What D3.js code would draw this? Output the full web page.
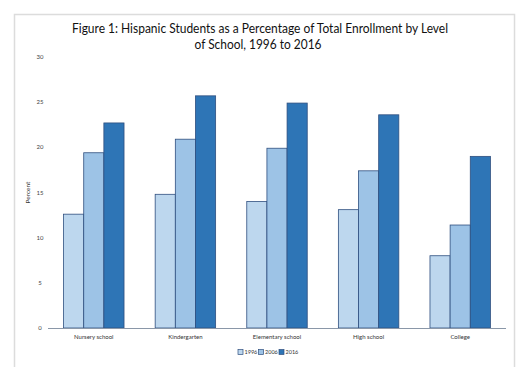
<!DOCTYPE html>
<html>
<head>
<meta charset="utf-8">
<script src="https://cdn.jsdelivr.net/npm/d3@7"></script>
<style>
  body { margin: 0; background: #fff; }
  svg { display: block; font-family: Lato, "Open Sans", sans-serif; }
</style>
</head>
<body>
<div id="chart"></div>
<script>
const categories = ["Nursery school", "Kindergarten", "Elementary school", "High school", "College"]
const years = ["1996", "2006", "2016"]
const values1996 = [12.6, 14.8, 14.0, 13.1, 8.0]
const values2006 = [19.4, 20.9, 19.9, 17.4, 11.4]
const values2016 = [22.7, 25.7, 24.9, 23.6, 19.0]
const yTicks = [0, 5, 10, 15, 20, 25, 30]

const series = [values1996, values2006, values2016]
const colors = ["#bdd7ee", "#9dc3e6", "#2e75b6"]

const width = 532, height = 367
const margin = {left: 48, right: 26, top: 57, bottom: 39}

const svg = d3.select("#chart")
  .append("svg")
  .attr("width", width)
  .attr("height", height)

// outer frame
svg.append("rect")
  .attr("x", 14.5).attr("y", 14.5)
  .attr("width", 500).attr("height", 370)
  .attr("fill", "none")
  .attr("stroke", "#dcdcdc")
  .attr("stroke-width", 1.5)

svg.append("text")
  .attr("x", 260).attr("y", 33)
  .attr("text-anchor", "middle")
  .attr("textLength", 376)
  .attr("lengthAdjust", "spacingAndGlyphs")
  .style("font-size", "12.8px")
  .style("fill", "#111")
  .text("Figure 1: Hispanic Students as a Percentage of Total Enrollment by Level")
svg.append("text")
  .attr("x", 258).attr("y", 49)
  .attr("text-anchor", "middle")
  .attr("textLength", 127)
  .attr("lengthAdjust", "spacingAndGlyphs")
  .style("font-size", "12.8px")
  .style("fill", "#111")
  .text("of School, 1996 to 2016")

const x = d3.scaleBand()
  .domain(categories)
  .range([margin.left, width - margin.right])
  .paddingInner(0.34)
  .paddingOuter(0.17)

const xs = d3.scaleBand()
  .domain(years)
  .range([0, x.bandwidth()])

const y = d3.scaleLinear()
  .domain([0, 30])
  .range([height - margin.bottom, margin.top])

// y tick labels
svg.append("g")
  .selectAll("text")
  .data(yTicks)
  .enter()
  .append("text")
  .attr("x", 40)
  .attr("y", d => y(d))
  .attr("dy", "0.35em")
  .attr("text-anchor", "middle")
  .style("font-size", "6px")
  .style("fill", "#444")
  .text(d => d)

svg.append("text")
  .attr("transform", `translate(30, ${y(15)}) rotate(-90)`)
  .attr("text-anchor", "middle")
  .style("font-size", "6.5px")
  .style("fill", "#333")
  .text("Percent")

const groups = svg.selectAll(".group")
  .data(categories)
  .enter()
  .append("g")
  .attr("class", "group")
  .attr("transform", d => `translate(${x(d)},0)`)

groups.selectAll("rect")
  .data((d, i) => years.map((yr, j) => ({yr, j, v: series[j][i]})))
  .enter()
  .append("rect")
  .attr("x", d => xs(d.yr))
  .attr("y", d => y(d.v))
  .attr("width", xs.bandwidth())
  .attr("height", d => y(0) - y(d.v))
  .attr("fill", d => colors[d.j])
  .attr("stroke", "#2f4f7f")
  .attr("stroke-width", 0.8)

// baseline
svg.append("line")
  .attr("x1", margin.left).attr("x2", width - margin.right)
  .attr("y1", y(0) + 0.5).attr("y2", y(0) + 0.5)
  .attr("stroke", "#8a97a8")
  .attr("stroke-width", 1)

// category labels
svg.append("g")
  .selectAll("text")
  .data(categories)
  .enter()
  .append("text")
  .attr("x", d => x(d) + x.bandwidth() / 2)
  .attr("y", y(0) + 11)
  .attr("text-anchor", "middle")
  .style("font-size", "6px")
  .style("fill", "#333")
  .text(d => d)

// legend
const legend = svg.append("g")
  .attr("transform", "translate(238, 352)")

const item = legend.selectAll("g")
  .data(years)
  .enter()
  .append("g")
  .attr("transform", (d, i) => `translate(${i * 20.5},0)`)

item.append("rect")
  .attr("x", 0).attr("y", -2.5)
  .attr("width", 5).attr("height", 5)
  .attr("fill", (d, i) => colors[i])
  .attr("stroke", "#2f4f7f")
  .attr("stroke-width", 0.7)

item.append("text")
  .attr("x", 6.5)
  .attr("y", 0)
  .attr("dy", "0.35em")
  .style("font-size", "5.5px")
  .style("fill", "#333")
  .text(d => d)
</script>
</body>
</html>
